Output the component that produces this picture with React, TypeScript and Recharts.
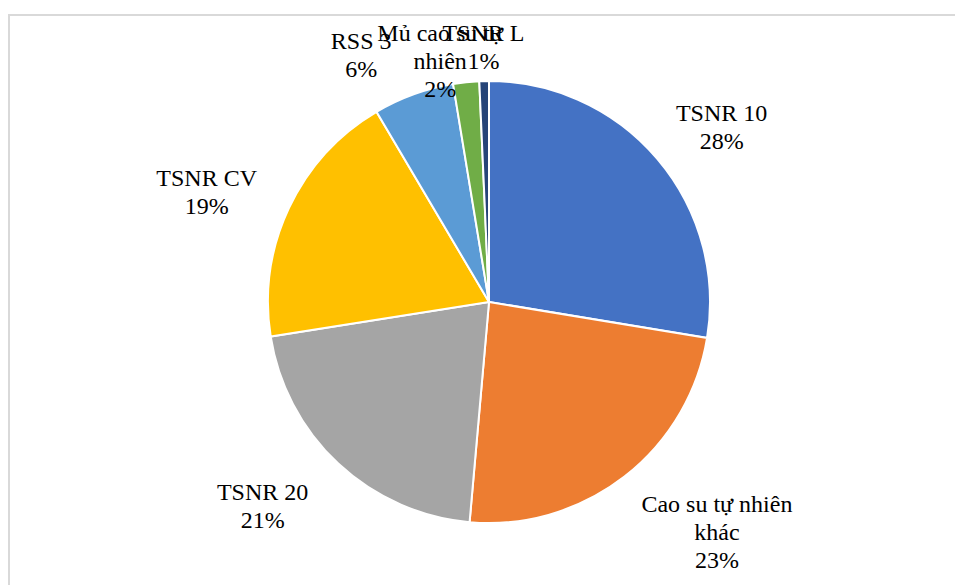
import React from "react";
import { PieChart, Pie, Cell } from "recharts";

const categories = ["TSNR 10", "Cao su tự nhiên khác", "TSNR 20", "TSNR CV", "RSS 3", "Mủ cao su tự nhiên", "TSNR L"];
const values = [27.6, 23.8, 21.1, 19.0, 5.9, 1.9, 0.7];
const percentLabels = ["28%", "23%", "21%", "19%", "6%", "2%", "1%"];
const labelLines: string[][] = [
  ["TSNR 10"],
  ["Cao su tự nhiên", "khác"],
  ["TSNR 20"],
  ["TSNR CV"],
  ["RSS 3"],
  ["Mủ cao su tự", "nhiên"],
  ["TSNR L"],
];
const colors = ["#4472C4", "#ED7D31", "#A5A5A5", "#FFC000", "#5B9BD5", "#70AD47", "#264478"];

// label layout: extra radius beyond outer radius, and angular shift (deg, clockwise)
const labelRadiusExtra = [70, 103, 84, 82, 57, 25, 34];
const labelAngleShift = [3.4, -6.9, 4.9, -3.9, -7.4, -5.5, 0];

const data = categories.map((name, i) => ({ name, value: values[i] }));

const RAD = Math.PI / 180;
const FONT = "'Liberation Serif', 'Times New Roman', Times, serif";

const renderLabel = (props: any) => {
  const { cx, cy, midAngle, outerRadius, index } = props;
  const r = outerRadius + labelRadiusExtra[index];
  const ang = midAngle - labelAngleShift[index];
  const x = cx + r * Math.cos(-ang * RAD);
  const y = cy + r * Math.sin(-ang * RAD);
  const lines = [...labelLines[index], percentLabels[index]];
  const lh = 28;
  const startY = y - ((lines.length - 1) * lh) / 2 + 8;
  return (
    <text
      key={`lbl-${index}`}
      x={x}
      y={startY}
      textAnchor="middle"
      fill="#000"
      style={{ fontFamily: FONT, fontSize: 24 }}
    >
      {lines.map((t, k) => (
        <tspan key={k} x={x} y={startY + k * lh} style={{ fontFamily: FONT }}>
          {t}
        </tspan>
      ))}
    </text>
  );
};

export default function App() {
  return (
    <div style={{ position: "absolute", left: 0, top: 0, width: 955, height: 585, overflow: "hidden", background: "#fff" }}>
      <div
        style={{
          position: "absolute",
          left: 8,
          top: 14,
          width: 1000,
          height: 1000,
          border: "2px solid #d9d9d9",
          boxSizing: "border-box",
        }}
      />
      <div style={{ position: "absolute", left: 0, top: 0, fontFamily: FONT }}>
        <PieChart width={955} height={585} margin={{ top: 0, right: 0, bottom: 0, left: 0 }} style={{ fontFamily: FONT }}>
          <Pie
            data={data}
            dataKey="value"
            nameKey="name"
            cx={489}
            cy={302}
            outerRadius={221}
            startAngle={90}
            endAngle={-270}
            stroke="#fff"
            strokeWidth={2}
            label={renderLabel}
            labelLine={false}
            isAnimationActive={false}
          >
            {data.map((d, i) => (
              <Cell key={d.name} fill={colors[i]} />
            ))}
          </Pie>
        </PieChart>
      </div>
    </div>
  );
}
